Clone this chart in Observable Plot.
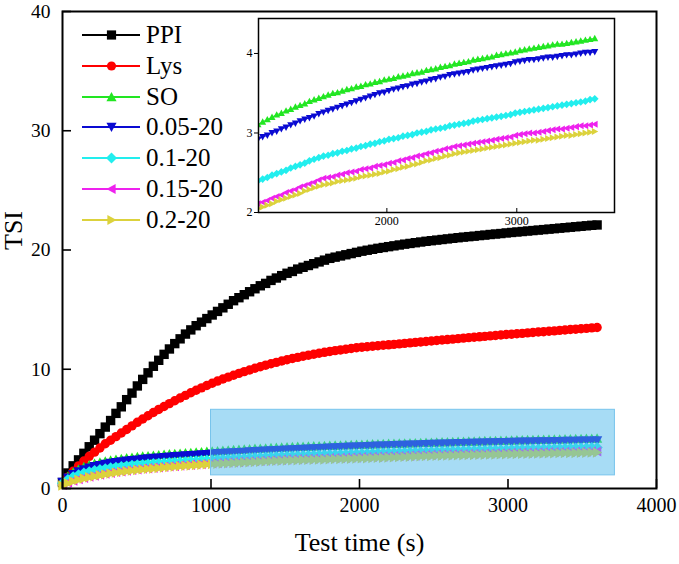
<!DOCTYPE html>
<html><head><meta charset="utf-8">
<script src="https://cdn.jsdelivr.net/npm/d3@7"></script>
<script src="https://cdn.jsdelivr.net/npm/@observablehq/plot@0.6"></script>
<style>
html,body{margin:0;padding:0;background:#fff;}
#wrap{position:relative;width:679px;height:564px;overflow:hidden;font-family:"Liberation Serif","Times New Roman",serif;}
.layer{position:absolute;}
.leg{position:absolute;left:82px;height:30px;display:flex;align-items:center;font-size:25px;line-height:30px;color:#000;font-family:"Liberation Serif","Times New Roman",serif;}
.leg svg{display:block;}
</style></head><body><div id="wrap"></div>
<script>
const times = [0,36,72,108,144,180,216,252,288,324,360,396,432,468,504,540,576,612,648,684,720,756,792,828,864,900,936,972,1008,1044,1080,1116,1152,1188,1224,1260,1296,1332,1368,1404,1440,1476,1512,1548,1584,1620,1656,1692,1728,1764,1800,1836,1872,1908,1944,1980,2016,2052,2088,2124,2160,2196,2232,2268,2304,2340,2376,2412,2448,2484,2520,2556,2592,2628,2664,2700,2736,2772,2808,2844,2880,2916,2952,2988,3024,3060,3096,3132,3168,3204,3240,3276,3312,3348,3384,3420,3456,3492,3528,3564,3600];

const seriesNames = ["PPI","Lys","SO","0.05-20","0.1-20","0.15-20","0.2-20"];
const seriesColors = ["#000000","#ff0000","#22e622","#0a0ad2","#22eeee","#ee22ee","#dcd23c"];

const ppi = [0.5,1.3,1.9,2.4,2.95,3.5,4.05,4.6,5.15,5.7,
6.3,6.85,7.45,8.0,8.6,9.15,9.7,10.25,10.75,11.25,
11.7,12.15,12.55,12.95,13.3,13.65,13.95,14.25,14.55,14.85,
15.15,15.45,15.75,16.0,16.25,16.5,16.75,17.0,17.2,17.45,
17.65,17.85,18.05,18.2,18.4,18.55,18.7,18.85,19.0,19.15,
19.3,19.4,19.5,19.6,19.7,19.8,19.9,19.98,20.06,20.14,
20.21,20.28,20.35,20.42,20.49,20.55,20.61,20.67,20.73,20.78,
20.83,20.88,20.93,20.98,21.03,21.08,21.12,21.16,21.21,21.25,
21.30,21.34,21.38,21.43,21.47,21.51,21.55,21.59,21.63,21.67,
21.71,21.75,21.79,21.83,21.87,21.91,21.95,21.99,22.03,22.07,
22.1];

const lys = [0.4,0.95,1.45,1.9,2.3,2.7,3.05,3.4,3.75,4.05,
4.35,4.65,4.95,5.25,5.55,5.83,6.1,6.37,6.63,6.88,
7.12,7.36,7.59,7.81,8.03,8.24,8.44,8.64,8.83,9.01,
9.18,9.34,9.5,9.65,9.8,9.94,10.08,10.21,10.34,10.46,
10.58,10.69,10.8,10.9,11.0,11.09,11.18,11.26,11.34,11.42,
11.49,11.56,11.62,11.68,11.74,11.8,11.85,11.89,11.93,11.97,
12.01,12.05,12.09,12.13,12.17,12.21,12.25,12.29,12.33,12.37,
12.41,12.45,12.49,12.53,12.57,12.61,12.65,12.68,12.72,12.76,
12.8,12.83,12.87,12.91,12.94,12.98,13.01,13.05,13.08,13.12,
13.15,13.19,13.22,13.26,13.29,13.33,13.36,13.4,13.43,13.47,
13.5];

const so = [0.6,1.0,1.35,1.6,1.8,1.96,2.08,2.18,2.27,2.35,
2.42,2.48,2.54,2.59,2.64,2.68,2.72,2.76,2.8,2.84,
2.87,2.9,2.93,2.96,2.99,3.02,3.05,3.08,3.11,3.14,
3.17,3.2,3.23,3.25,3.28,3.3,3.33,3.35,3.37,3.4,
3.42,3.44,3.46,3.48,3.5,3.51,3.53,3.55,3.56,3.58,
3.59,3.61,3.62,3.64,3.65,3.67,3.68,3.69,3.71,3.72,
3.73,3.75,3.76,3.77,3.79,3.8,3.81,3.83,3.84,3.85,
3.87,3.88,3.89,3.9,3.92,3.93,3.94,3.95,3.96,3.98,
3.99,4.0,4.01,4.02,4.04,4.05,4.06,4.07,4.08,4.09,
4.1,4.11,4.12,4.12,4.13,4.14,4.15,4.16,4.17,4.18,
4.19];

const s005 = [0.55,0.9,1.2,1.42,1.6,1.74,1.86,1.96,2.05,2.13,
2.2,2.26,2.32,2.37,2.42,2.47,2.51,2.55,2.59,2.63,
2.66,2.7,2.73,2.76,2.79,2.82,2.85,2.88,2.92,2.95,
2.97,3.0,3.02,3.05,3.07,3.1,3.12,3.15,3.17,3.19,
3.21,3.24,3.26,3.28,3.3,3.32,3.34,3.36,3.38,3.4,
3.42,3.44,3.46,3.48,3.5,3.51,3.53,3.55,3.56,3.58,
3.59,3.61,3.62,3.64,3.65,3.67,3.68,3.7,3.71,3.73,
3.74,3.75,3.76,3.77,3.79,3.8,3.81,3.82,3.83,3.84,
3.85,3.86,3.87,3.89,3.9,3.91,3.92,3.92,3.93,3.94,
3.95,3.95,3.96,3.97,3.98,3.98,3.99,4.0,4.01,4.01,
4.02];

const s01 = [0.45,0.75,0.98,1.15,1.29,1.4,1.5,1.58,1.65,1.72,
1.78,1.83,1.88,1.93,1.97,2.01,2.05,2.08,2.11,2.14,
2.17,2.2,2.23,2.26,2.29,2.32,2.35,2.37,2.4,2.42,
2.44,2.47,2.49,2.51,2.53,2.56,2.58,2.6,2.62,2.65,
2.67,2.69,2.71,2.72,2.74,2.75,2.77,2.78,2.8,2.81,
2.83,2.84,2.86,2.87,2.89,2.9,2.92,2.93,2.94,2.96,
2.97,2.98,3.0,3.01,3.02,3.04,3.05,3.06,3.07,3.09,
3.1,3.11,3.12,3.13,3.15,3.16,3.17,3.18,3.19,3.2,
3.21,3.22,3.23,3.25,3.26,3.27,3.28,3.29,3.3,3.31,
3.32,3.33,3.34,3.35,3.36,3.37,3.38,3.39,3.4,3.42,
3.43];

const s015 = [0.3,0.5,0.66,0.79,0.9,1.0,1.09,1.17,1.25,1.32,
1.39,1.45,1.51,1.56,1.61,1.66,1.7,1.74,1.78,1.82,
1.86,1.89,1.93,1.96,1.99,2.02,2.05,2.08,2.11,2.13,
2.15,2.18,2.2,2.22,2.25,2.27,2.29,2.32,2.34,2.36,
2.38,2.41,2.43,2.44,2.45,2.47,2.48,2.5,2.51,2.52,
2.54,2.55,2.56,2.58,2.59,2.6,2.62,2.63,2.65,2.66,
2.68,2.69,2.71,2.72,2.74,2.75,2.77,2.78,2.8,2.81,
2.83,2.84,2.85,2.86,2.87,2.88,2.89,2.9,2.91,2.92,
2.93,2.94,2.95,2.97,2.98,2.99,3.0,3.0,3.01,3.02,
3.03,3.04,3.05,3.05,3.06,3.07,3.08,3.09,3.09,3.1,
3.11];

const s02 = [0.25,0.44,0.6,0.73,0.84,0.94,1.03,1.11,1.19,1.26,
1.33,1.39,1.45,1.5,1.55,1.6,1.64,1.68,1.72,1.76,
1.8,1.83,1.87,1.9,1.93,1.96,1.99,2.02,2.05,2.07,
2.09,2.11,2.14,2.16,2.18,2.2,2.22,2.24,2.27,2.29,
2.31,2.33,2.35,2.36,2.37,2.39,2.4,2.41,2.42,2.43,
2.45,2.46,2.47,2.48,2.49,2.51,2.52,2.54,2.55,2.57,
2.58,2.6,2.61,2.63,2.65,2.66,2.68,2.69,2.71,2.72,
2.74,2.75,2.76,2.77,2.78,2.79,2.8,2.81,2.82,2.83,
2.84,2.85,2.86,2.87,2.88,2.89,2.9,2.91,2.91,2.92,
2.93,2.94,2.95,2.96,2.97,2.97,2.98,2.99,3.0,3.01,
3.02];

const mainXTicks = [0,1000,2000,3000,4000];
const mainYTicks = [0,10,20,30,40];
const insetXTicks = [2000,3000];
const insetYTicks = [2,3,4];
const highlight = [{x1:1000, x2:3720, y1:1.1, y2:6.6}];
const insetXDomain = [1012, 3752];
const insetYDomain = [2, 4.44];

// marker shapes (d3 symbol-type objects)
const mk = pts => ({draw(ctx, size){ const r = Math.sqrt(size/Math.PI);
  ctx.moveTo(pts[0][0]*r, pts[0][1]*r);
  for (let i=1;i<pts.length;i++) ctx.lineTo(pts[i][0]*r, pts[i][1]*r);
  ctx.closePath(); }});
const symSquare = mk([[-1,-1],[1,-1],[1,1],[-1,1]]);
const symCircle = {draw(ctx,size){const r=Math.sqrt(size/Math.PI); ctx.moveTo(r,0); ctx.arc(0,0,r,0,2*Math.PI); ctx.closePath();}};
const symUp = mk([[0,-1.1],[1.1,0.9],[-1.1,0.9]]);
const symDown = mk([[0,1.1],[1.1,-0.9],[-1.1,-0.9]]);
const symDiamond = mk([[0,-1.2],[1.2,0],[0,1.2],[-1.2,0]]);
const symLeft = mk([[-1.1,0],[0.9,-1.1],[0.9,1.1]]);
const symRight = mk([[1.1,0],[-0.9,-1.1],[-0.9,1.1]]);
const seriesSymbols = [symSquare, symCircle, symUp, symDown, symDiamond, symLeft, symRight];

const allValues = [ppi, lys, so, s005, s01, s015, s02];
const tables = allValues.map(vals => times.map((t,j) => ({t, v: vals[j]})));

const font = '"Liberation Serif","Times New Roman",serif';
const wrap = document.getElementById("wrap");

function seriesMarks(r, sw, clip) {
  const m = [];
  tables.forEach((tb, i) => {
    m.push(Plot.line(tb, {x:"t", y:"v", stroke: seriesColors[i], strokeWidth: sw, clip}));
    m.push(Plot.dot(tb, {x:"t", y:"v", fill: seriesColors[i], stroke:"none", symbol: seriesSymbols[i], r, clip}));
  });
  return m;
}

const main = Plot.plot({
  width: 679, height: 564,
  marginLeft: 62, marginRight: 23, marginTop: 11, marginBottom: 76,
  style: {fontFamily: font, fontSize: "20px", background: "white", color: "black", overflow: "visible"},
  x: {domain: [0, 4000]},
  y: {domain: [0, 40]},
  marks: [
    ...seriesMarks(4.7, 1.5, false),
    Plot.rect(highlight, {x1:"x1", x2:"x2", y1:"y1", y2:"y2", fill:"#50b9eb", fillOpacity:0.5, stroke:"#78c4ec", strokeWidth:1}),
    Plot.axisX({ticks: mainXTicks, tickSize: -9, tickPadding: 18, tickFormat: d => String(d), label: null, fontSize: 20, fontFamily: font, strokeWidth: 1.6}),
    Plot.axisY({ticks: mainYTicks, tickSize: -9, tickPadding: 21, tickFormat: d => String(d), label: null, fontSize: 19.5, fontFamily: font, strokeWidth: 1.6}),
    Plot.frame({stroke: "black", strokeWidth: 2}),
    Plot.text(["Test time (s)"], {frameAnchor: "bottom", dy: 62, fontSize: 26, fontFamily: font}),
    Plot.text(["TSI"], {frameAnchor: "left", dx: -49, rotate: -90, fontSize: 26, fontFamily: font})
  ]
});
main.classList.add("layer");
main.style.left = "0px"; main.style.top = "0px";
wrap.appendChild(main);

const inset = Plot.plot({
  width: 394, height: 222,
  marginLeft: 28, marginRight: 10, marginTop: 8, marginBottom: 20,
  style: {fontFamily: font, fontSize: "12px", background: "transparent", color: "black", overflow: "visible"},
  x: {domain: insetXDomain},
  y: {domain: insetYDomain},
  marks: [
    Plot.frame({fill: "white", stroke: "none"}),
    ...seriesMarks(3.2, 1, true),
    Plot.axisX({ticks: insetXTicks, tickSize: -4, tickPadding: 8, tickFormat: d => String(d), label: null, fontSize: 12, fontFamily: font}),
    Plot.axisY({ticks: insetYTicks, tickSize: 4, tickPadding: 2, tickFormat: d => String(d), label: null, fontSize: 12, fontFamily: font}),
    Plot.frame({stroke: "black", strokeWidth: 1.5})
  ]
});
inset.classList.add("layer");
inset.style.left = "230px"; inset.style.top = "10px";
wrap.appendChild(inset);

// legend
seriesNames.forEach((name, i) => {
  const row = document.createElement("div");
  row.className = "leg";
  row.style.top = (35 + i*30.8 - 15) + "px";
  const svg = d3.create("svg").attr("width", 64).attr("height", 30);
  svg.append("line").attr("x1", 0).attr("x2", 58).attr("y1", 15).attr("y2", 15)
    .attr("stroke", seriesColors[i]).attr("stroke-width", 2);
  const p = d3.path();
  seriesSymbols[i].draw(p, Math.PI * 4.6 * 4.6);
  svg.append("path").attr("d", p.toString()).attr("transform", "translate(29.5,15)").attr("fill", seriesColors[i]);
  row.appendChild(svg.node());
  const span = document.createElement("span");
  span.textContent = name;
  row.appendChild(span);
  wrap.appendChild(row);
});
</script></body></html>
